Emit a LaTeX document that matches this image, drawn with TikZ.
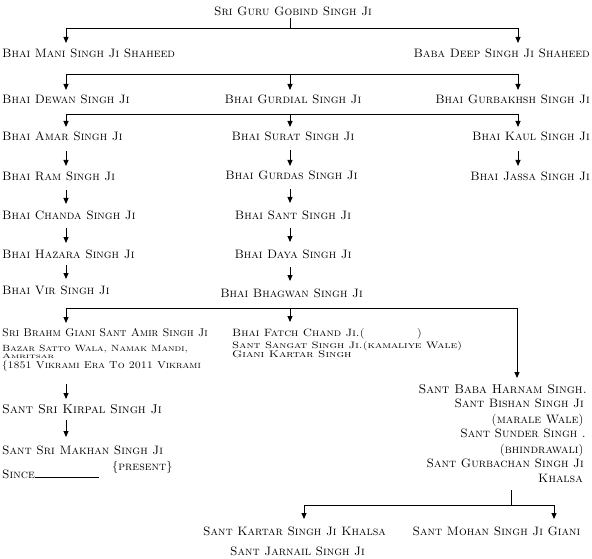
\documentclass[tikz,border=0pt]{standalone}
\usepackage{graphicx}
\usetikzlibrary{arrows.meta}
\begin{document}
\begin{tikzpicture}[x=1pt,y=-1pt,
  lbl/.style={font=\fontsize{12.2}{12}\selectfont\scshape, inner sep=0pt},
  sz/.style={font=\fontsize{#1}{12}\selectfont\scshape, inner sep=0pt},
  ln/.style={line width=0.9pt},
  arr/.style={line width=0.9pt, -{Triangle[length=6pt,width=5pt]}}]
\useasboundingbox (0,0) rectangle (592,559);
% nodes
\node[lbl, anchor=base] (guru) at (293,16) {Sri Guru Gobind Singh Ji};
\node[lbl, anchor=base west] (mani) at (2,58) {Bhai Mani Singh Ji Shaheed};
\node[lbl, anchor=base east] (deep) at (590,58) {Baba Deep Singh Ji Shaheed};
\node[lbl, anchor=base west] (dewan) at (2,104) {Bhai Dewan Singh Ji};
\node[lbl, anchor=base] (gurdial) at (293,104) {Bhai Gurdial Singh Ji};
\node[lbl, anchor=base east] (gurbakhsh) at (590,104) {Bhai Gurbakhsh Singh Ji};
\node[lbl, anchor=base west] (amar) at (2,141) {Bhai Amar Singh Ji};
\node[lbl, anchor=base] (surat) at (293,141) {Bhai Surat Singh Ji};
\node[lbl, anchor=base east] (kaul) at (590,141) {Bhai Kaul Singh Ji};
\node[lbl, anchor=base west] (ram) at (2,181) {Bhai Ram Singh Ji};
\node[lbl, anchor=base] (gurdas) at (291.5,180) {Bhai Gurdas Singh Ji};
\node[lbl, anchor=base east] (jassa) at (590,181) {Bhai Jassa Singh Ji};
\node[lbl, anchor=base west] (chanda) at (2,219) {Bhai Chanda Singh Ji};
\node[lbl, anchor=base] (sant) at (293,219) {Bhai Sant Singh Ji};
\node[lbl, anchor=base west] (hazara) at (2,258) {Bhai Hazara Singh Ji};
\node[lbl, anchor=base] (daya) at (293,258) {Bhai Daya Singh Ji};
\node[lbl, anchor=base west] (vir) at (2,294) {Bhai Vir Singh Ji};
\node[lbl, anchor=base] (bhagwan) at (291.5,297) {Bhai Bhagwan Singh Ji};
% lower left
\node[sz=11.2, anchor=base west] (amir) at (2,336) {Sri Brahm Giani Sant Amir Singh Ji};
\node[sz=10.6, anchor=base west] (bazar) at (2,351) {\scalebox{1}[0.85]{Bazar Satto Wala, Namak Mandi,}};
\node[sz=11, anchor=base west] (amritsar) at (2,358) {\scalebox{1}[0.6]{Amritsar}};
\node[sz=10.9, anchor=base west] (era) at (2,368) {\scalebox{1}[0.92]{\{1851 Vikrami Era To 2011 Vikrami}};
\node[sz=12.8, anchor=base west] (kirpal) at (2,413) {Sant Sri Kirpal Singh Ji};
\node[lbl, anchor=base west] (makhan) at (2,454) {Sant Sri Makhan Singh Ji};
\node[lbl, anchor=base west] (since) at (2,478) {Since\rule{64pt}{0.6pt}};
\node[lbl, anchor=base west] (present) at (112,470) {\{present\}};
% middle
\node[sz=11.8, anchor=base west] (fatch) at (232,336) {\scalebox{1}[0.9]{Bhai Fatch Chand Ji.(\hspace{52pt})}};
\node[sz=11.7, anchor=base west] (sangat) at (232,348) {\scalebox{1}[0.8]{Sant Sangat Singh Ji.(kamaliye Wale)}};
\node[sz=12, anchor=base west] (kartar1) at (232,357) {\scalebox{1}[0.8]{Giani Kartar Singh}};
% right block
\node[sz=12.7, anchor=base east] (harnam) at (587,393) {Sant Baba Harnam Singh.};
\node[lbl, anchor=base east] (bishan) at (584,407) {Sant Bishan Singh Ji};
\node[lbl, anchor=base east] (marale) at (584,423) {(marale Wale)};
\node[lbl, anchor=base east] (sunder) at (586,437) {Sant Sunder Singh .};
\node[lbl, anchor=base east] (bhindra) at (584,453) {(bhindrawali)};
\node[lbl, anchor=base east] (gurbachan) at (584,467) {Sant Gurbachan Singh Ji};
\node[lbl, anchor=base east] (khalsa) at (583,482) {Khalsa};
% bottom
\node[lbl, anchor=base] (kartar) at (294.5,535) {Sant Kartar Singh Ji Khalsa};
\node[lbl, anchor=base] (mohan) at (496.5,535) {Sant Mohan Singh Ji Giani};
\node[lbl, anchor=base] (jarnail) at (297.5,555) {Sant Jarnail Singh Ji};
% junction coordinates
\coordinate (j1) at (290,28);
\coordinate (j1l) at (66,28);
\coordinate (j1r) at (518,28);
\coordinate (j2l) at (66,74);
\coordinate (j2m) at (290,74);
\coordinate (j2r) at (518,74);
\coordinate (j3l) at (66,114);
\coordinate (j3m) at (290,114);
\coordinate (j3r) at (518,114);
\coordinate (j4l) at (66,308);
\coordinate (j4m) at (290,308);
\coordinate (j4r) at (517,308);
\coordinate (j5) at (511,505);
\coordinate (j5l) at (304,505);
\coordinate (j5r) at (554,505);
% connectors
\draw[ln] ([yshift=-2pt]guru.base -| j1) -- (j1);
\draw[ln] (j1l) -- (j1r);
\draw[arr] (j1l) -- ([yshift=15pt]mani.base -| j1l);
\draw[arr] (j1r) -- ([yshift=15pt]deep.base -| j1r);
\draw[ln] (j2l) -- (j2r);
\draw[arr] (j2l) -- ([yshift=14pt]dewan.base -| j2l);
\draw[arr] (j2m) -- ([yshift=14pt]gurdial.base -| j2m);
\draw[arr] (j2r) -- ([yshift=14pt]gurbakhsh.base -| j2r);
\draw[ln] (j3l) -- (j3r);
\draw[arr] (j3l) -- ([yshift=14pt]amar.base -| j3l);
\draw[arr] (j3m) -- ([yshift=14pt]surat.base -| j3m);
\draw[arr] (j3r) -- ([yshift=14pt]kaul.base -| j3r);
\draw[arr] ([yshift=-10pt]amar.base -| j3l) -- ([yshift=15pt]ram.base -| j3l);
\draw[arr] ([yshift=-9pt]ram.base -| j3l) -- ([yshift=15pt]chanda.base -| j3l);
\draw[arr] ([yshift=-9pt]chanda.base -| j3l) -- ([yshift=15pt]hazara.base -| j3l);
\draw[arr] ([yshift=-7pt]hazara.base -| j3l) -- ([yshift=15pt]vir.base -| j3l);
\draw[arr] ([yshift=-9pt]surat.base -| j3m) -- ([yshift=14pt]gurdas.base -| j3m);
\draw[arr] ([yshift=-9pt]gurdas.base -| j3m) -- ([yshift=16pt]sant.base -| j3m);
\draw[arr] ([yshift=-9pt]sant.base -| j3m) -- ([yshift=16pt]daya.base -| j3m);
\draw[arr] ([yshift=-9pt]daya.base -| j3m) -- ([yshift=16pt]bhagwan.base -| j3m);
\draw[arr] ([yshift=-10pt]kaul.base -| j3r) -- ([yshift=15pt]jassa.base -| j3r);
\draw[ln] (j4l) -- (j4r);
\draw[arr] (j4l) -- ([yshift=13pt]amir.base -| j4l);
\draw[arr] (j4m) -- ([yshift=14pt]fatch.base -| j4m);
\draw[arr] (j4r) -- ([yshift=15pt]harnam.base -| j4r);
\draw[arr] ([yshift=-16pt]era.base -| j4l) -- ([yshift=14pt]kirpal.base -| j4l);
\draw[arr] ([yshift=-7pt]kirpal.base -| j4l) -- ([yshift=17pt]makhan.base -| j4l);
\draw[ln] ([yshift=-8pt]khalsa.base -| j5) -- (j5);
\draw[ln] (j5l) -- (j5r);
\draw[arr] (j5l) -- ([yshift=16pt]kartar.base -| j5l);
\draw[arr] (j5r) -- ([yshift=16pt]mohan.base -| j5r);
\end{tikzpicture}
\end{document}
